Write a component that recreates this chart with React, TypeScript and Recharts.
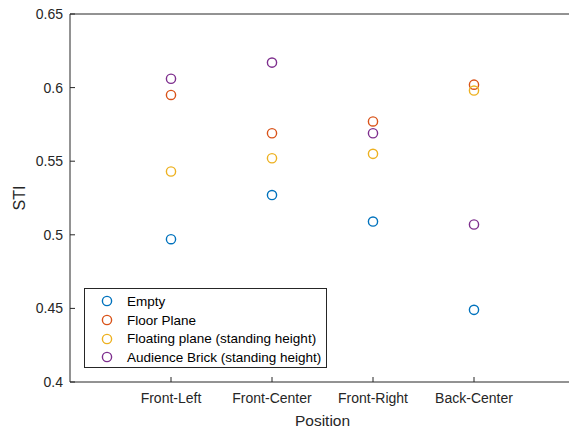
import { ScatterChart, Scatter, XAxis, YAxis, Legend, Label } from 'recharts';

const positions = ['Front-Left', 'Front-Center', 'Front-Right', 'Back-Center'];
const yTicks = [0.4, 0.45, 0.5, 0.55, 0.6, 0.65];

const empty = [0.497, 0.527, 0.509, 0.449];
const floorPlane = [0.595, 0.569, 0.577, 0.602];
const floatingPlane = [0.543, 0.552, 0.555, 0.598];
const audienceBrick = [0.606, 0.617, 0.569, 0.507];

const seriesList = [
  { name: 'Empty', values: empty, color: '#0072BD' },
  { name: 'Floor Plane', values: floorPlane, color: '#D95319' },
  { name: 'Floating plane (standing height)', values: floatingPlane, color: '#EDB120' },
  { name: 'Audience Brick (standing height)', values: audienceBrick, color: '#7E2F8E' },
];

const AXIS = '#262626';
const FONT = '"Liberation Sans", Arial, Helvetica, sans-serif';

const toPoints = (values: number[]) => values.map((v, i) => ({ x: i + 1, y: v }));

const marker = (color: string) => (props: any) => (
  <circle cx={props.cx} cy={props.cy} r={4.6} fill="none" stroke={color} strokeWidth={1.4} />
);

const LeftTick = ({ x, y, payload }: any) => (
  <g>
    <line x1={x} y1={y} x2={x + 5} y2={y} stroke={AXIS} />
    <text x={x - 7} y={y} dy="0.35em" textAnchor="end" fontSize={14} fill={AXIS} fontFamily={FONT}>
      {payload.value}
    </text>
  </g>
);

const RightTick = ({ x, y }: any) => <line x1={x} y1={y} x2={x - 5} y2={y} stroke={AXIS} />;

const BottomTick = ({ x, y, payload }: any) => (
  <g>
    <line x1={x} y1={y} x2={x} y2={y - 5} stroke={AXIS} />
    <text x={x} y={y + 21} textAnchor="middle" fontSize={14} fill={AXIS} fontFamily={FONT}>
      {positions[payload.value - 1]}
    </text>
  </g>
);

const TopTick = ({ x, y }: any) => <line x1={x} y1={y} x2={x} y2={y + 5} stroke={AXIS} />;

const LegendBox = () => (
  <div
    style={{
      border: `1px solid ${AXIS}`,
      background: '#fff',
      width: 243,
      height: 80,
      boxSizing: 'border-box',
      padding: '3px 0 0 0',
      fontFamily: FONT,
      fontSize: 13.5,
      color: '#000',
      textAlign: 'left',
    }}
  >
    {seriesList.map((s) => (
      <div key={s.name} style={{ display: 'flex', alignItems: 'center', height: 18.7 }}>
        <svg width={42} height={12} style={{ flex: 'none' }}>
          <circle cx={22} cy={6} r={4.6} fill="none" stroke={s.color} strokeWidth={1.4} />
        </svg>
        <span style={{ whiteSpace: 'nowrap' }}>{s.name}</span>
      </div>
    ))}
  </div>
);

export default function App() {
  return (
    <div style={{ position: 'absolute', left: 0, top: 0, width: 569, height: 429, overflow: 'hidden', background: '#fff' }}>
      <ScatterChart width={600} height={429} margin={{ top: 0, right: 0, bottom: 0, left: 0 }}>
        <XAxis
          xAxisId="bottom"
          type="number"
          dataKey="x"
          domain={[0, 5]}
          ticks={[1, 2, 3, 4]}
          height={47}
          tickSize={0}
          tickMargin={0}
          tickLine={false}
          axisLine={{ stroke: AXIS }}
          tick={<BottomTick />}
        >
          <Label value="Position" position="insideBottom" offset={3} fontSize={15.5} fill={AXIS} fontFamily={FONT} />
        </XAxis>
        <XAxis
          xAxisId="top"
          orientation="top"
          type="number"
          dataKey="x"
          domain={[0, 5]}
          ticks={[1, 2, 3, 4]}
          height={14}
          tickSize={0}
          tickMargin={0}
          tickLine={false}
          axisLine={{ stroke: AXIS }}
          tick={<TopTick />}
        />
        <YAxis
          yAxisId="left"
          type="number"
          dataKey="y"
          domain={[0.4, 0.65]}
          ticks={yTicks}
          width={70}
          tickSize={0}
          tickMargin={0}
          tickLine={false}
          axisLine={{ stroke: AXIS }}
          tick={<LeftTick />}
        >
          <Label value="STI" angle={-90} position="insideLeft" offset={19} fontSize={16} fill={AXIS} fontFamily={FONT} style={{ textAnchor: 'middle' }} />
        </YAxis>
        <YAxis
          yAxisId="right"
          orientation="right"
          type="number"
          dataKey="y"
          domain={[0.4, 0.65]}
          ticks={yTicks}
          width={25}
          tickSize={0}
          tickMargin={0}
          tickLine={false}
          axisLine={{ stroke: AXIS }}
          tick={<RightTick />}
        />
        {seriesList.map((s) => (
          <Scatter
            key={s.name}
            name={s.name}
            data={toPoints(s.values)}
            xAxisId="bottom"
            yAxisId="left"
            fill={s.color}
            shape={marker(s.color)}
            isAnimationActive={false}
          />
        ))}
        <Legend
          layout="vertical"
          align="center"
          verticalAlign="middle"
          content={<LegendBox />}
          wrapperStyle={{ position: 'absolute', left: 84, top: 288, width: 243, height: 80 }}
        />
      </ScatterChart>
    </div>
  );
}
